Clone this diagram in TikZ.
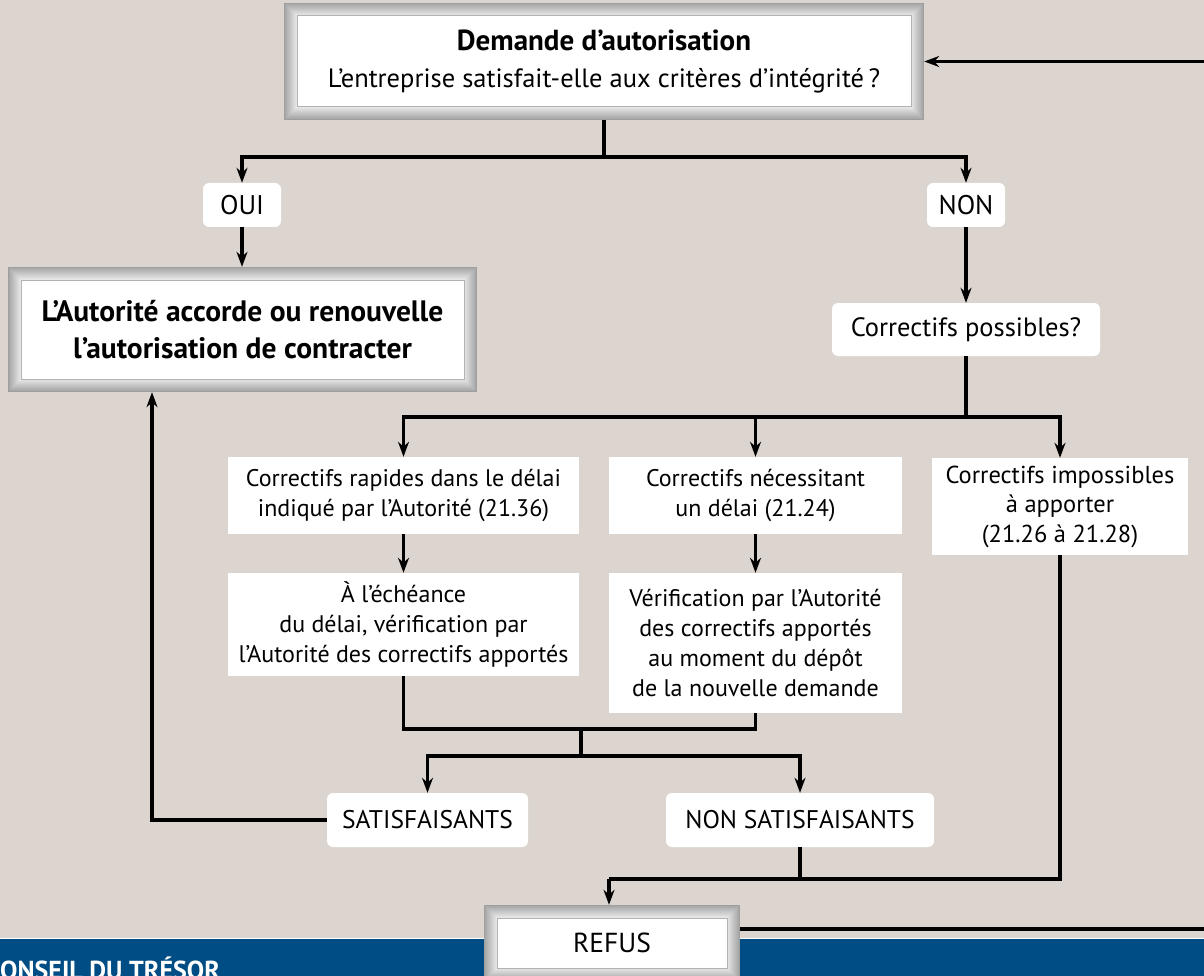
\documentclass[tikz,border=0pt]{standalone}
\usepackage{fontspec}
\setmainfont{PT Sans}
\usetikzlibrary{arrows.meta}

\definecolor{fond}{RGB}{220,213,207}
\definecolor{bleu}{RGB}{0,76,132}
\newcommand\taille[2]{\fontsize{#1}{#2}\selectfont}
\newcommand\corps{\taille{24}{30}}
\newcommand\titre{\taille{26.5}{37}}
\newcommand\gras{\taille{29.5}{37}\bfseries}
\newcommand\bandeau{\taille{26}{30}\bfseries}

\tikzset{
  lien/.style={line width=3.4pt},
  arr/.style={line width=3.4pt,-{Stealth[length=15pt,width=11pt]}},
  boite/.style={fill=white,align=center,inner sep=0pt,font=\corps},
  arrondi/.style={boite,rounded corners=6pt},
  cadre/.style={align=center,inner sep=0pt,fill=black!38,
    path picture={
      \foreach \i [evaluate=\i as \c using 36-2.2*\i] in {1,...,12}
        \fill[black!\c] ([shift={(\i pt,\i pt)}]path picture bounding box.south west)
          rectangle ([shift={(-\i pt,-\i pt)}]path picture bounding box.north east);
      \filldraw[fill=white,draw=black!30,line width=1pt]
        ([shift={(13pt,13pt)}]path picture bounding box.south west)
          rectangle ([shift={(-13pt,-13pt)}]path picture bounding box.north east);
    }}
}

\begin{document}
\begin{tikzpicture}[x=1pt,y=-1pt]
\useasboundingbox (0,0) rectangle (1204,976);
\clip (0,0) rectangle (1204,976);
\fill[fond] (0,0) rectangle (1204,976);
\fill[bleu] (0,939) rectangle (1204,976);
\draw[white,line width=1.2pt] (0,938.6) -- (1204,938.6);
\node[anchor=base west,text=white,font=\bandeau,inner sep=0pt] (conseil) at (0,979) {ONSEIL DU TRÉSOR};

\node[cadre,minimum width=640pt,minimum height=117pt,font=\titre] (demande) at (604,61.5)
  {{\fontsize{29}{37}\selectfont\bfseries Demande d’autorisation}\\L’entreprise satisfait-elle aux critères d’intégrité\,?};
\node[arrondi,minimum width=78pt,minimum height=44pt,font={\taille{27}{30}}] (oui) at (242,205) {OUI};
\node[arrondi,minimum width=78pt,minimum height=44pt,font={\taille{27}{30}}] (non) at (966,205) {NON};
\node[cadre,minimum width=469pt,minimum height=125pt,font=\gras] (accorde) at (242.5,329.5)
  {L’Autorité accorde ou renouvelle\\l’autorisation de contracter};
\node[arrondi,minimum width=268pt,minimum height=53pt,font={\taille{26.5}{30}}] (possibles) at (966,329.5)
  {Correctifs possibles?};
\node[boite,minimum width=351pt,minimum height=77pt] (rapides) at (403.5,495.5)
  {Correctifs rapides dans le délai\\indiqué par l’Autorité (21.36)};
\node[boite,minimum width=293pt,minimum height=77pt] (necessitant) at (755.5,495.5)
  {Correctifs nécessitant\\un délai (21.24)};
\node[boite,minimum width=256pt,minimum height=97pt,font={\taille{24.5}{29.5}}] (impossibles) at (1060,506.5)
  {Correctifs impossibles\\à apporter\\(21.26 à 21.28)};
\node[boite,minimum width=351pt,minimum height=103pt] (echeance) at (403.5,624.5)
  {À l’échéance\\du délai, vérification par\\l’Autorité des correctifs apportés};
\node[boite,minimum width=293pt,minimum height=140pt] (verification) at (755.5,643)
  {Vérification par l’Autorité\\des correctifs apportés\\au moment du dépôt\\de la nouvelle demande};
\node[arrondi,minimum width=201pt,minimum height=54pt,font={\taille{25.5}{30}}] (satis) at (427.5,820) {SATISFAISANTS};
\node[arrondi,minimum width=268pt,minimum height=54pt,font={\taille{25.5}{30}}] (nonsatis) at (800,820) {NON SATISFAISANTS};
\node[cadre,minimum width=256pt,minimum height=76pt,font={\taille{27.5}{30}}] (refus) at (612,943) {REFUS};

\coordinate (j1) at (604,157);
\coordinate (j2) at (966,417);
\coordinate (j3) at (581,729);
\coordinate (j4) at (581,756);
\coordinate (j5) at (609,879);
\coordinate (s1) at (152,820);
\coordinate (r1) at (1205.5,929);

\draw[lien] (demande) -- (j1);
\draw[arr] (j1) -| (oui);
\draw[arr] (j1) -| (non);
\draw[arr] (oui) -- (oui |- accorde.north);
\draw[arr] (non) -- (possibles);
\draw[lien] (possibles) -- (j2);
\draw[arr] (j2) -| (rapides);
\draw[arr] (j2) -| (necessitant);
\draw[arr] (j2) -| (impossibles);
\draw[arr] (rapides) -- (echeance);
\draw[arr] (necessitant) -- (verification);
\draw[lien] (echeance) |- (j3) -| (verification);
\draw[lien] (j3) -- (j4);
\draw[arr] (j4) -| (satis);
\draw[arr] (j4) -| (nonsatis);
\draw[arr] (satis) -- (s1) -- (s1 |- accorde.south);
\draw[lien] (impossibles) |- (j5);
\draw[lien] (nonsatis) -- (nonsatis |- j5);
\draw[arr] (j5) -- (j5 |- refus.north);
\draw[arr] (refus.east |- r1) -- (r1) |- (demande);
\end{tikzpicture}
\end{document}
